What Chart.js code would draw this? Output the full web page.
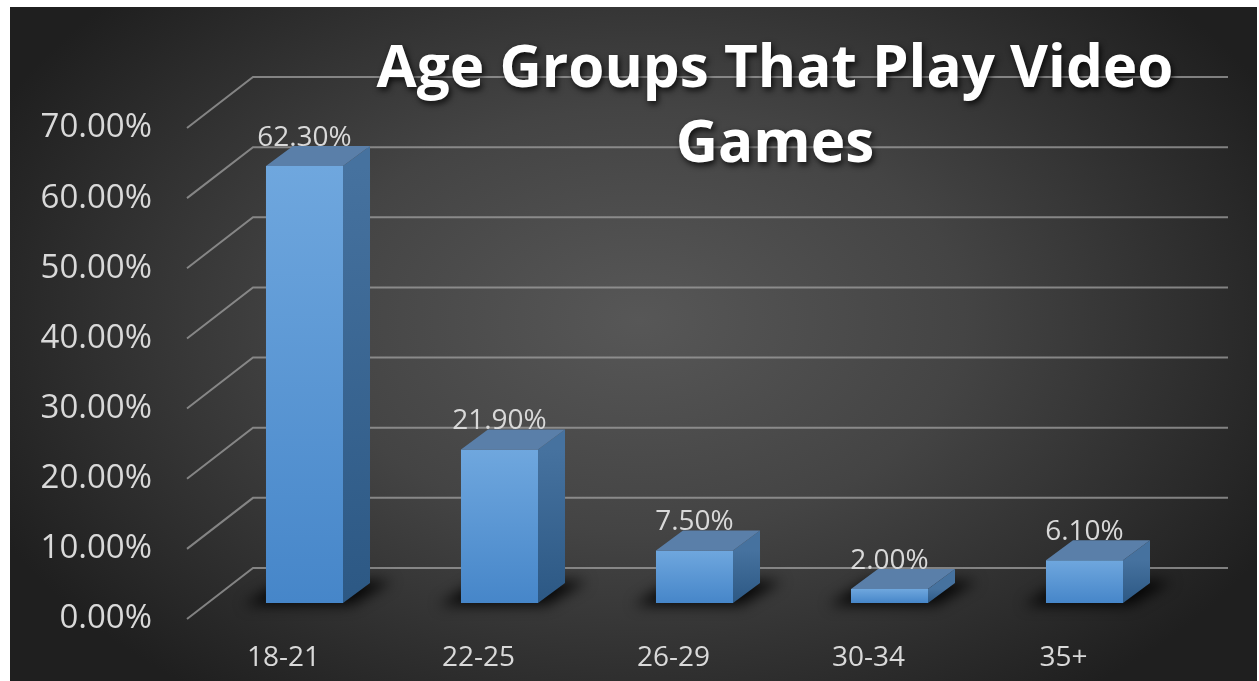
<!DOCTYPE html>
<html><head><meta charset="utf-8">
<style>html,body{margin:0;padding:0;background:#fff;overflow:hidden}#wrap{width:1259px;height:681px}</style>
<script src="https://cdn.jsdelivr.net/npm/chart.js@4.4.1/dist/chart.umd.min.js"></script>
</head><body><div id="wrap"><canvas id="c" width="1259" height="681"></canvas></div>
<script>
const CATEGORIES = ['18-21', '22-25', '26-29', '30-34', '35+'];
const SHARE_PCT = [62.3, 21.9, 7.5, 2.0, 6.1];
const Y_MIN = 0, Y_MAX = 70, Y_STEP = 10;
const TITLE_LINES = ['Age Groups That Play Video', 'Games'];

const FONT = '"Open Sans", "Noto Sans", sans-serif';
const TEXT_COL = '#d9d9d9';
// pseudo-3D offsets (pixels)
const DEPTH = {dx: 27, dy: -20};
const WALL = {dx: 46, dy: -35};
const FRONT = {dx: -20, dy: 16};

const fmtPct = v => Number(v).toFixed(2) + '%';

const pseudo3D = {
  id: 'pseudo3D',
  beforeDraw(chart) {
    const {ctx, width, height} = chart;
    ctx.save();
    ctx.fillStyle = '#ffffff';
    ctx.fillRect(0, 0, width, height);
    const x0 = 10, y0 = 7, x1 = 1257, y1 = height;
    ctx.beginPath(); ctx.rect(x0, y0, x1 - x0, y1 - y0); ctx.clip();
    ctx.fillStyle = '#232323';
    ctx.fillRect(x0, y0, x1 - x0, y1 - y0);
    const cx = 640, cy = 320, rx = 720, ry = 470;
    ctx.translate(cx, cy); ctx.scale(1, ry / rx);
    const g = ctx.createRadialGradient(0, 0, 0, 0, 0, rx);
    g.addColorStop(0, '#575757');
    g.addColorStop(0.45, '#444444');
    g.addColorStop(1, '#1f1f1f');
    ctx.fillStyle = g;
    ctx.fillRect(-rx * 1.2, -rx * 1.2, rx * 2.4, rx * 2.4);
    ctx.restore();
  },
  beforeDatasetsDraw(chart) {
    const {ctx, chartArea: ca} = chart;
    const ys = chart.scales.y;
    ctx.save();
    ctx.strokeStyle = 'rgba(160,160,160,0.75)';
    ctx.lineWidth = 2;
    ys.ticks.forEach(t => {
      const py = ys.getPixelForValue(t.value);
      ctx.beginPath();
      ctx.moveTo(ca.left + FRONT.dx, py + FRONT.dy);
      ctx.lineTo(ca.left + WALL.dx, py + WALL.dy);
      ctx.lineTo(ca.right + WALL.dx, py + WALL.dy);
      ctx.stroke();
    });
    // soft floor shadows
    const meta = chart.getDatasetMeta(0);
    ctx.filter = 'blur(7px)';
    ctx.fillStyle = 'rgba(0,0,0,0.9)';
    meta.data.forEach(el => {
      const l = el.x - el.width / 2, r = el.x + el.width / 2, b = el.base;
      ctx.beginPath();
      ctx.moveTo(l - 22, b + 2);
      ctx.lineTo(r + 8, b + 2);
      ctx.lineTo(r + DEPTH.dx + 22, b + DEPTH.dy - 2);
      ctx.lineTo(l + DEPTH.dx - 10, b + DEPTH.dy - 2);
      ctx.closePath();
      ctx.fill();
    });
    ctx.restore();
  },
  afterDatasetsDraw(chart) {
    const {ctx} = chart;
    const meta = chart.getDatasetMeta(0);
    ctx.save();
    meta.data.forEach((el, i) => {
      const l = el.x - el.width / 2, r = el.x + el.width / 2, t = el.y, b = el.base;
      // side face
      const sg = ctx.createLinearGradient(0, t, 0, b);
      sg.addColorStop(0, '#46729f');
      sg.addColorStop(1, '#2c5884');
      ctx.fillStyle = sg;
      ctx.beginPath();
      ctx.moveTo(r, t); ctx.lineTo(r + DEPTH.dx, t + DEPTH.dy);
      ctx.lineTo(r + DEPTH.dx, b + DEPTH.dy); ctx.lineTo(r, b);
      ctx.closePath(); ctx.fill();
      // top face
      ctx.fillStyle = '#5a7fa9';
      ctx.beginPath();
      ctx.moveTo(l, t); ctx.lineTo(r, t);
      ctx.lineTo(r + DEPTH.dx, t + DEPTH.dy); ctx.lineTo(l + DEPTH.dx, t + DEPTH.dy);
      ctx.closePath(); ctx.fill();
    });
    // data labels
    ctx.font = '28px ' + FONT;
    ctx.fillStyle = TEXT_COL;
    ctx.textAlign = 'center';
    ctx.textBaseline = 'alphabetic';
    meta.data.forEach((el, i) => {
      ctx.fillText(fmtPct(chart.data.datasets[0].data[i]), el.x, el.y - 20);
    });
    ctx.restore();
  },
  afterDraw(chart) {
    const {ctx} = chart;
    ctx.save();
    ctx.font = '700 59px ' + FONT;
    const w = ctx.measureText(TITLE_LINES[0]).width;
    const sx = 797 / w;
    const cx = 775;
    const baselines = [87, 162];
    ctx.textAlign = 'center';
    ctx.textBaseline = 'alphabetic';
    ctx.fillStyle = '#ffffff';
    ctx.shadowColor = 'rgba(0,0,0,0.8)';
    ctx.shadowBlur = 6;
    ctx.shadowOffsetX = 2;
    ctx.shadowOffsetY = 3;
    TITLE_LINES.forEach((line, i) => {
      ctx.save();
      ctx.translate(cx, baselines[i]);
      ctx.scale(sx, 1);
      ctx.fillText(line, 0, 0);
      ctx.restore();
    });
    ctx.restore();
  }
};

function make() {
  new Chart(document.getElementById('c'), {
    type: 'bar',
    data: {
      labels: CATEGORIES,
      datasets: [{
        data: SHARE_PCT,
        borderWidth: 0,
        categoryPercentage: 1,
        barPercentage: 0.395,
        backgroundColor(c) {
          const ys = c.chart.scales.y;
          if (!ys || c.raw === undefined) return '#5b9bd5';
          const top = ys.getPixelForValue(c.raw), bot = ys.getPixelForValue(0);
          if (!isFinite(top) || !isFinite(bot) || top === bot) return '#5b9bd5';
          const g = c.chart.ctx.createLinearGradient(0, top, 0, bot);
          g.addColorStop(0, '#6fa7de');
          g.addColorStop(1, '#4686c9');
          return g;
        }
      }]
    },
    options: {
      responsive: false,
      devicePixelRatio: 1,
      animation: false,
      layout: {padding: {left: 10, right: 77, top: 112, bottom: 0}},
      plugins: {legend: {display: false}, tooltip: {enabled: false}, title: {display: false}},
      scales: {
        x: {
          grid: {display: false, drawTicks: false},
          border: {display: false},
          ticks: {color: TEXT_COL, font: {family: FONT, size: 28}, padding: 38, labelOffset: -21, maxRotation: 0},
          afterFit(s) { s.height = 78; }
        },
        y: {
          min: Y_MIN, max: Y_MAX,
          grid: {display: false, drawTicks: false},
          border: {display: false},
          ticks: {stepSize: Y_STEP, color: TEXT_COL, font: {family: FONT, size: 33}, padding: 55, labelOffset: 16, callback: v => fmtPct(v)},
          afterFit(s) { s.width = 197; }
        }
      }
    },
    plugins: [pseudo3D]
  });
}
Promise.all([
  document.fonts.load('700 59px "Open Sans"'),
  document.fonts.load('28px "Open Sans"')
]).then(make, make);
</script></body></html>
